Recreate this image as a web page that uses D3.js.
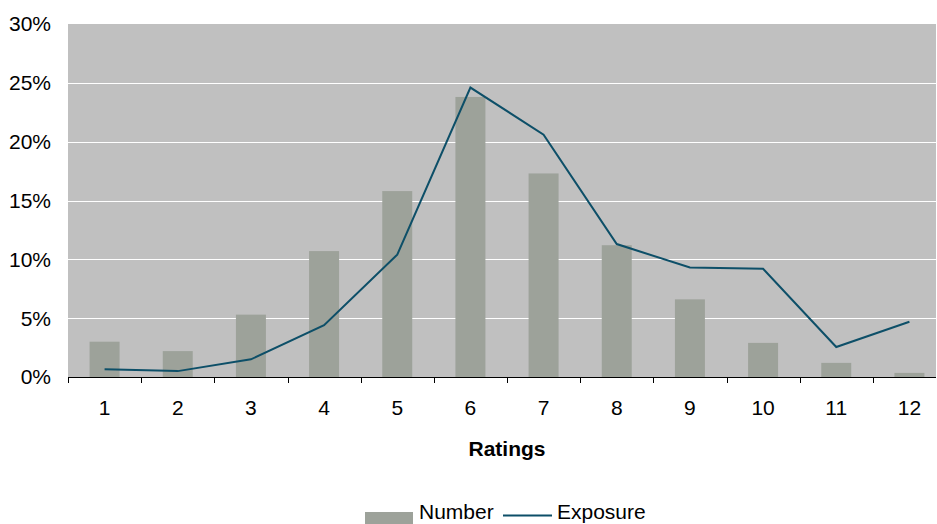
<!DOCTYPE html>
<html><head><meta charset="utf-8">
<script src="https://cdn.jsdelivr.net/npm/d3@7"></script>
<style>body{margin:0;background:#fff}svg{display:block;font-family:Arial,"Liberation Sans",sans-serif}</style>
</head><body>
<svg id="c" width="937" height="524"></svg>
<script>
const categories = ["1","2","3","4","5","6","7","8","9","10","11","12"];
const numberValues = [3.0, 2.2, 5.3, 10.7, 15.8, 23.8, 17.3, 11.2, 6.6, 2.9, 1.2, 0.35];
const exposureValues = [0.65, 0.5, 1.5, 4.4, 10.4, 24.6, 20.6, 11.3, 9.3, 9.2, 2.55, 4.7];
const yTicks = [0, 5, 10, 15, 20, 25, 30];
const seriesNames = ["Number", "Exposure"];

const svg = d3.select("#c");
const pL = 68, pR = 946, pT = 24, pB = 377, clipRight = 936;

const x = d3.scaleBand().domain(categories).range([pL, pR]);
const y = d3.scaleLinear().domain([0, 30]).range([pB, pT]);

svg.append("defs").append("clipPath").attr("id","pc")
  .append("rect").attr("x", pL).attr("y", pT - 2).attr("width", clipRight - pL).attr("height", pB - pT + 4);

svg.append("rect").attr("x", pL).attr("y", pT).attr("width", clipRight - pL).attr("height", pB - pT).attr("fill", "#C0C0C0");

const g = svg.append("g").attr("clip-path", "url(#pc)");

g.selectAll(".grid").data(yTicks.filter(d => d > 0 && d < 30)).join("line")
  .attr("x1", pL).attr("x2", clipRight)
  .attr("y1", d => Math.round(y(d)) + 0.5).attr("y2", d => Math.round(y(d)) + 0.5)
  .attr("stroke", "#fff").attr("stroke-width", 1);

const bw = x.bandwidth() * 0.41;
g.selectAll(".bar").data(categories).join("rect")
  .attr("x", (d) => x(d) + x.bandwidth() / 2 - bw / 2)
  .attr("y", (d, i) => y(numberValues[i]))
  .attr("width", bw)
  .attr("height", (d, i) => pB - y(numberValues[i]))
  .attr("fill", "#9DA29A");

const line = d3.line().x((d, i) => x(categories[i]) + x.bandwidth() / 2).y(d => y(d));
g.append("path").datum(exposureValues).attr("d", line)
  .attr("fill", "none").attr("stroke", "#0D4F68").attr("stroke-width", 2).attr("stroke-linejoin", "miter");

svg.selectAll(".yl").data(yTicks).join("text")
  .attr("x", 51).attr("y", d => y(d)).attr("dy", "0.35em")
  .attr("text-anchor", "end").attr("font-size", 21).attr("fill", "#000")
  .text(d => d + "%");

svg.append("line").attr("x1", pL).attr("x2", clipRight).attr("y1", pB + 0.5).attr("y2", pB + 0.5)
  .attr("stroke", "#000").attr("stroke-width", 1);
const bounds = categories.map(c => x(c)).filter(v => v < clipRight);
svg.selectAll(".tk").data(bounds).join("line")
  .attr("x1", d => Math.round(d) + 0.5).attr("x2", d => Math.round(d) + 0.5)
  .attr("y1", pB).attr("y2", pB + 6).attr("stroke", "#000");

svg.selectAll(".xl").data(categories).join("text")
  .attr("x", d => x(d) + x.bandwidth() / 2).attr("y", 415)
  .attr("text-anchor", "middle").attr("font-size", 21).attr("fill", "#000")
  .text(d => d);

svg.append("text").attr("x", (pL + pR) / 2).attr("y", 456)
  .attr("text-anchor", "middle").attr("font-size", 21).attr("font-weight", "bold").text("Ratings");

svg.append("rect").attr("x", 365).attr("y", 512).attr("width", 48).attr("height", 12).attr("fill", "#9DA29A");
svg.append("text").attr("x", 419).attr("y", 519).attr("font-size", 21).text(seriesNames[0]);
svg.append("line").attr("x1", 503).attr("x2", 552).attr("y1", 515.5).attr("y2", 515.5)
  .attr("stroke", "#0D4F68").attr("stroke-width", 2);
svg.append("text").attr("x", 557).attr("y", 519).attr("font-size", 21).text(seriesNames[1]);
</script>
</body></html>
